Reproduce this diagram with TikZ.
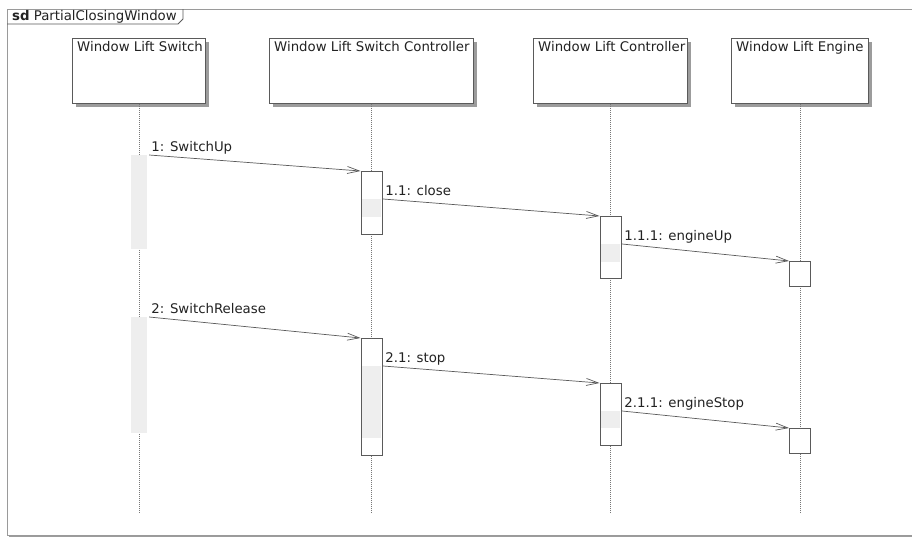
\documentclass[tikz,border=0pt]{standalone}
\usepackage{fontspec}
\setmainfont{DejaVu Sans}
\usetikzlibrary{positioning,arrows.meta,calc,shadows}
\definecolor{ink}{HTML}{222222}
\definecolor{edge}{HTML}{5A5A5A}
\definecolor{frameln}{HTML}{9A9A9A}
\definecolor{shade}{HTML}{9C9C9C}
\definecolor{actgray}{HTML}{EEEEEE}
\definecolor{lifeln}{HTML}{777777}
\tikzset{
  head/.style={draw=edge, line width=0.8pt, fill=white, anchor=north west,
    minimum height=65pt, inner sep=0pt,
    general shadow={fill=shade, shadow xshift=4pt, shadow yshift=-4pt}},
  headlbl/.style={anchor=north west, inner xsep=5pt, inner ysep=3pt, text=ink},
  life/.style={draw=lifeln, line width=0.7pt, dash pattern=on 1pt off 1pt},
  actbox/.style={draw=edge, line width=0.8pt, fill=white, anchor=north,
    minimum width=21pt, inner sep=0pt},
  actfill/.style={fill=actgray, anchor=north, minimum width=19pt, inner sep=0pt},
  msg/.style={-{Straight Barb[length=12pt,width=7pt]}, line width=0.7pt, color=edge},
  msglbl/.style={anchor=base west, xshift=2pt, yshift=4pt, inner sep=0pt, text=ink},
}

\begin{document}
\begin{tikzpicture}[x=1pt, y=-1pt, font=\fontsize{13.3pt}{16pt}\selectfont]
    \useasboundingbox (0,0) rectangle (912,538);
    \clip (0,0) rectangle (912,538);
    % frame
    \draw[draw=frameln, line width=1pt, fill=white,
      general shadow={fill=shade, shadow xshift=2pt, shadow yshift=-2pt}] (7,9) rectangle (930,535);
    \draw[draw=edge, line width=0.8pt] (7,24) -- (178,24) -- (183,19) -- (183,9);
    \node[anchor=base west, inner sep=0pt, text=ink] (title) at (12,20) {\textbf{sd} PartialClosingWindow};
    % lifelines
    \foreach \n/\x/\w/\t in {sw/72/133/Window Lift Switch, swc/269/204/Window Lift Switch Controller,
        wlc/533/154/Window Lift Controller, eng/731/137/Window Lift Engine} {
      \node[head, minimum width=\w pt, label={[headlbl]north west:\t}] (\n) at (\x,38) {};
      \coordinate (\n-end) at (\n.south |- 0,513);
      \draw[life] (\n) -- (\n-end);
    }
    % activations
    \node[actfill, minimum width=16pt, minimum height=94pt] (sw1) at (sw.south |- 0,155) {};
    \node[actfill, minimum width=16pt, minimum height=116pt] (sw2) at (sw.south |- 0,317) {};
    \node[actbox, minimum height=63pt] (sc1) at (swc.south |- 0,171) {};
    \node[actfill, minimum height=18pt] (sc1g) at (swc.south |- 0,199) {};
    \node[actbox, minimum height=117pt] (sc2) at (swc.south |- 0,338) {};
    \node[actfill, minimum height=72pt] (sc2g) at (swc.south |- 0,366) {};
    \node[actbox, minimum height=62pt] (wc1) at (wlc.south |- 0,216) {};
    \node[actfill, minimum height=18pt] (wc1g) at (wlc.south |- 0,244) {};
    \node[actbox, minimum height=62pt] (wc2) at (wlc.south |- 0,383) {};
    \node[actfill, minimum height=17pt] (wc2g) at (wlc.south |- 0,411) {};
    \node[actbox, minimum height=25pt] (en1) at (eng.south |- 0,261) {};
    \node[actbox, minimum height=25pt] (en2) at (eng.south |- 0,428) {};
    % messages
    \foreach \a/\b/\t in {sw1/sc1/1: SwitchUp, sc1g/wc1/1.1: close, wc1g/en1/1.1.1: engineUp,
        sw2/sc2/2: SwitchRelease, sc2g/wc2/2.1: stop, wc2g/en2/2.1.1: engineStop}
      \draw[msg] ([xshift=2pt]\a.north east) -- node[pos=0, msglbl] {\t} (\b.north west);
  \end{tikzpicture}
\end{document}
